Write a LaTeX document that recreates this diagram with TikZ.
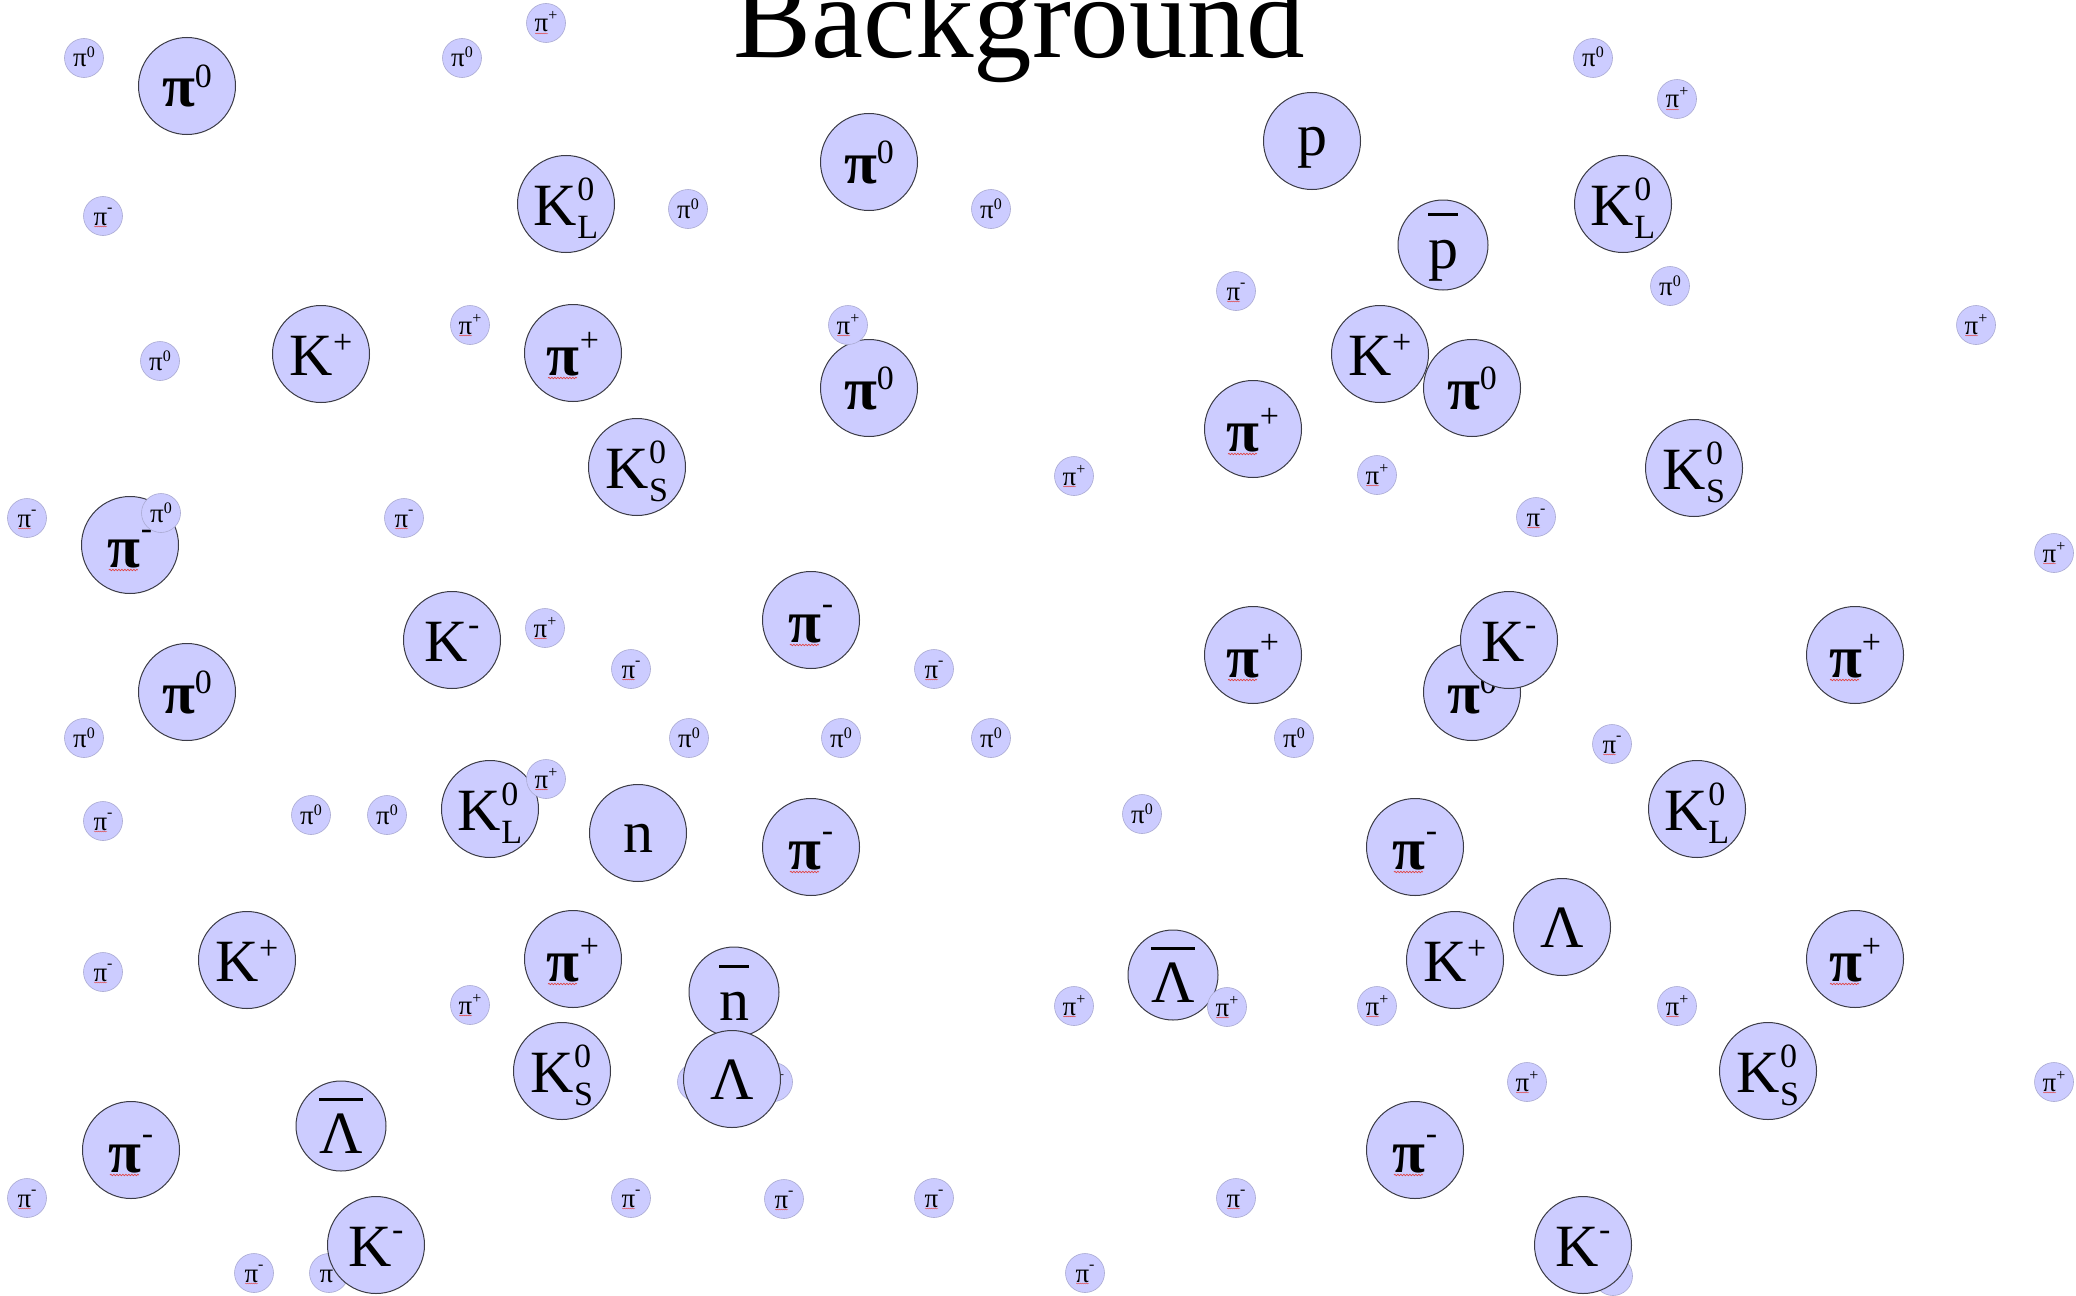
\documentclass[tikz,border=0pt]{standalone}
\usepackage{fontspec}
\setmainfont{Liberation Serif}
\usetikzlibrary{decorations.pathmorphing}
\definecolor{pfill}{RGB}{204,204,255}
\definecolor{pline}{RGB}{60,60,70}
\definecolor{sline}{RGB}{170,170,210}
\definecolor{squigred}{RGB}{225,70,70}
% fonts
\newcommand\BF{\fontsize{60pt}{60pt}\selectfont}
\newcommand\BS{\fontsize{34pt}{34pt}\selectfont}
\newcommand\SF{\fontsize{27pt}{27pt}\selectfont}
\newcommand\SSc{\fontsize{16pt}{16pt}\selectfont}
% big: base + raised superscript
\newcommand\bsup[3]{{\BF #1}\hbox{\BS\raise#3\hbox{#2}}}
% big: base + stacked sup/sub
\newcommand\bss[3]{{\BF #1}\hbox{\BS\setbox0\hbox{#2}\setbox2\hbox{#3}%
  \dimen0=\wd0 \ifdim\wd2>\dimen0 \dimen0=\wd2 \fi
  \rlap{\raise25pt\box0}\rlap{\lower13pt\box2}\hskip\dimen0\relax}}
% small: base + raised superscript
\newcommand\ssup[3]{{\SF #1}\hbox{\SSc\raise#3\hbox{#2}}}
% overlined glyph
\newcommand\barred[1]{\setbox0\hbox{#1}\rlap{\hbox to\wd0{\hss\raise52pt\hbox{\vrule width\wd0 height 3pt depth 0pt}\hss}}\box0}
% particle labels
\newcommand\PIz{\bsup{\bfseries π}{0}{20pt}}
\newcommand\PIp{\bsup{\bfseries π}{+}{24pt}}
\newcommand\PIm{\bsup{\bfseries π}{-}{28pt}}
\newcommand\KPL{\bsup{K}{+}{22pt}}
\newcommand\KMI{\bsup{K}{-}{26pt}}
\newcommand\KLz{\bss{K}{0}{L}}
\newcommand\KSz{\bss{K}{0}{S}}
\newcommand\SPz{\ssup{π}{0}{9pt}}
\newcommand\SPp{\ssup{π}{+}{11pt}}
\newcommand\SPm{\ssup{π}{-}{13pt}}
\begin{document}
\begin{tikzpicture}[x=1pt,y=-1pt,
  pbig/.style={circle, fill=pfill, draw=pline, line width=1pt, minimum size=97pt,
    inner sep=0pt, text height=42pt, text depth=0pt},
  pbar/.style={pbig, minimum size=90pt, text height=54pt},
  psmall/.style={circle, fill=pfill, draw=sline, line width=0.6pt, minimum size=39pt,
    inner sep=0pt, text height=18pt, text depth=0pt},
  squig/.style={draw=squigred, line width=0.7pt, decorate,
    decoration={snake, amplitude=0.7pt, segment length=3pt}},
  sqsmall/.style={draw=squigred, line width=0.45pt, decorate,
    decoration={snake, amplitude=0.4pt, segment length=2pt}},
  title/.style={font=\fontsize{117pt}{117pt}\selectfont, anchor=base, inner sep=0pt}]
\useasboundingbox (0,0) rectangle (2076,1295);
\clip (0,0) rectangle (2076,1295);
\fill[white] (0,0) rectangle (2076,1295);

\node[title] (title) at (1019,58) {Background};

% small particles hidden behind larger ones
\node[psmall] (h1) at (697,1082) {\SPp};
\node[psmall] (h2) at (773,1082) {\SPp};
\node[psmall] (h3) at (329,1273) {\SPm};
\node[psmall] (h4) at (1613,1276) {};

% large particles
\node[pbig] (b1) at (187,86) {\PIz};
\node[pbig] (b2) at (869,162) {\PIz};
\node[pbig, text height=28pt] (b3) at (1312,141) {{\BF p}};
\node[pbig] (b4) at (566,204) {\KLz};
\node[pbig] (b5) at (1623,204) {\KLz};
\node[pbar, text height=46pt] (a1) at (1443,245) {{\BF\barred{p}}};
\node[pbig] (b6) at (321,354) {\KPL};
\node[pbig, text height=44pt] (b7) at (573,353) {\PIp};
\node[pbig] (b8) at (869,388) {\PIz};
\node[pbig] (b9) at (1380,354) {\KPL};
\node[pbig] (b10) at (1472,388) {\PIz};
\node[pbig, text height=44pt] (b11) at (1253,429) {\PIp};
\node[pbig] (b12) at (637,467) {\KSz};
\node[pbig] (b13) at (1694,468) {\KSz};
\node[pbig, text height=44pt] (b14) at (130,545) {\PIm};
\node[pbig] (b15) at (452,640) {\KMI};
\node[pbig, text height=44pt] (b16) at (811,620) {\PIm};
\node[pbig, text height=44pt] (b17) at (1253,655) {\PIp};
\node[pbig] (b18) at (1472,692) {\PIz};
\node[pbig] (b19) at (1509,640) {\KMI};
\node[pbig, text height=44pt] (b20) at (1855,655) {\PIp};
\node[pbig] (b21) at (187,692) {\PIz};
\node[pbig] (b22) at (490,809) {\KLz};
\node[pbig, text height=38pt] (b23) at (638,833) {{\BF n}};
\node[pbig, text height=44pt] (b24) at (811,847) {\PIm};
\node[pbig, text height=44pt] (b25) at (1415,847) {\PIm};
\node[pbig] (b26) at (1697,809) {\KLz};
\node[pbig] (b27) at (247,960) {\KPL};
\node[pbig, text height=44pt] (b28) at (573,959) {\PIp};
\node[pbig] (b29) at (1455,960) {\KPL};
\node[pbig, text height=40pt] (b30) at (1562,927) {{\BF Λ}};
\node[pbig, text height=44pt] (b31) at (1855,959) {\PIp};
\node[pbig] (b32) at (562,1071) {\KSz};
\node[pbar, text height=56pt] (a2) at (734,992) {{\BF\barred{n}}};
\node[pbig, text height=40pt] (b33) at (732,1079) {{\BF Λ}};
\node[pbar] (a3) at (1173,975) {{\BF\barred{Λ}}};
\node[pbar] (a4) at (341,1126) {{\BF\barred{Λ}}};
\node[pbig] (b34) at (1768,1071) {\KSz};
\node[pbig, text height=44pt] (b35) at (131,1150) {\PIm};
\node[pbig, text height=44pt] (b36) at (1415,1150) {\PIm};
\node[pbig] (b37) at (376,1245) {\KMI};
\node[pbig] (b38) at (1583,1245) {\KMI};

% small particles
\node[psmall] (s1) at (84,58) {\SPz};
\node[psmall] (s2) at (546,23) {\SPp};
\node[psmall] (s3) at (462,58) {\SPz};
\node[psmall] (s4) at (1593,58) {\SPz};
\node[psmall] (s5) at (1677,99) {\SPp};
\node[psmall] (s6) at (103,216) {\SPm};
\node[psmall] (s7) at (688,209) {\SPz};
\node[psmall] (s8) at (991,209) {\SPz};
\node[psmall] (s9) at (1236,291) {\SPm};
\node[psmall] (s10) at (1670,286) {\SPz};
\node[psmall] (s11) at (1976,325) {\SPp};
\node[psmall] (s12) at (160,361) {\SPz};
\node[psmall] (s13) at (470,325) {\SPp};
\node[psmall] (s14) at (848,325) {\SPp};
\node[psmall] (s15) at (1074,476) {\SPp};
\node[psmall] (s16) at (1377,475) {\SPp};
\node[psmall] (s17) at (27,518) {\SPm};
\node[psmall] (s18) at (161,513) {\SPz};
\node[psmall] (s19) at (404,518) {\SPm};
\node[psmall] (s20) at (1536,517) {\SPm};
\node[psmall] (s21) at (2054,553) {\SPp};
\node[psmall] (s22) at (545,628) {\SPp};
\node[psmall] (s23) at (631,669) {\SPm};
\node[psmall] (s24) at (934,669) {\SPm};
\node[psmall] (s25) at (84,738) {\SPz};
\node[psmall] (s26) at (689,738) {\SPz};
\node[psmall] (s27) at (841,738) {\SPz};
\node[psmall] (s28) at (991,738) {\SPz};
\node[psmall] (s29) at (1294,738) {\SPz};
\node[psmall] (s30) at (1612,744) {\SPm};
\node[psmall] (s31) at (103,821) {\SPm};
\node[psmall] (s32) at (311,815) {\SPz};
\node[psmall] (s33) at (387,815) {\SPz};
\node[psmall] (s34) at (546,779) {\SPp};
\node[psmall] (s35) at (1142,814) {\SPz};
\node[psmall] (s36) at (103,972) {\SPm};
\node[psmall] (s37) at (470,1005) {\SPp};
\node[psmall] (s38) at (1074,1006) {\SPp};
\node[psmall] (s39) at (1227,1007) {\SPp};
\node[psmall] (s40) at (1377,1006) {\SPp};
\node[psmall] (s41) at (1677,1006) {\SPp};
\node[psmall] (s42) at (1527,1082) {\SPp};
\node[psmall] (s43) at (2054,1082) {\SPp};
\node[psmall] (s44) at (27,1198) {\SPm};
\node[psmall] (s45) at (631,1198) {\SPm};
\node[psmall] (s46) at (784,1199) {\SPm};
\node[psmall] (s47) at (934,1198) {\SPm};
\node[psmall] (s48) at (1236,1198) {\SPm};
\node[psmall] (s49) at (254,1273) {\SPm};
\node[psmall] (s50) at (1085,1273) {\SPm};

% spell-check squiggles under the charged pions
\foreach \n in {b7,b11,b14,b16,b17,b20,b24,b25,b28,b31,b35,b36}
  \draw[squig] ([xshift=1pt,yshift=-3pt]\n.text) -- ++(29pt,0pt);
\foreach \n in {s2,s5,s6,s9,s11,s13,s14,s15,s16,s17,s19,s20,s21,s22,s23,s24,s30,s31,s34,s36,s37,s38,s39,s40,s41,s42,s43,s44,s45,s46,s47,s48,s49,s50}
  \draw[sqsmall] ([xshift=0.5pt,yshift=-1.5pt]\n.text) -- ++(13pt,0pt);
\end{tikzpicture}
\end{document}
